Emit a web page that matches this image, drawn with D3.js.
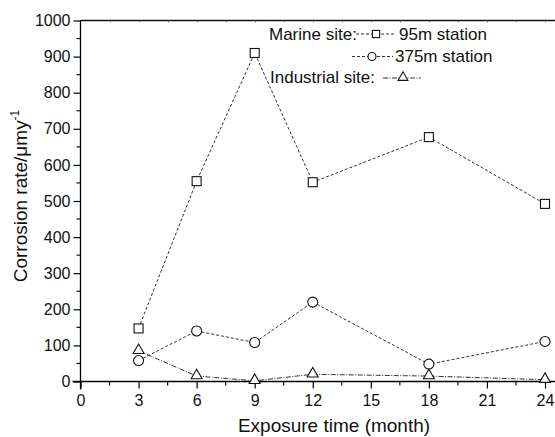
<!DOCTYPE html>
<meta charset="utf-8">
<style>
    body { margin: 0; background: #fff; }
    text { font-family: "Liberation Sans", Arial, sans-serif; fill: #111; }
</style>
<body>
<svg id="chart" width="555" height="437"></svg>
<script src="https://cdn.jsdelivr.net/npm/d3@7"></script>
<script>
    // data
    var months = [3, 6, 9, 12, 18, 24];
    var marine95 = [147, 555, 910, 552, 677, 492];
    var marine375 = [58, 140, 108, 220, 48, 111];
    var industrial = [85, 15, 2, 20, 15, 5];
    var xTicks = [0, 3, 6, 9, 12, 15, 18, 21, 24];
    var yTicks = [0, 100, 200, 300, 400, 500, 600, 700, 800, 900, 1000];

    var svg = d3.select("#chart");
    var pLeft = 80.5, pTop = 20.5, pBottom = 381.5;

    var x = d3.scaleLinear().domain([0, 24]).range([pLeft, 545]);
    var y = d3.scaleLinear().domain([0, 1000]).range([pBottom, pTop]);

    // top frame line
    svg.append("line").attr("x1", pLeft).attr("x2", 560).attr("y1", pTop).attr("y2", pTop)
        .attr("stroke", "#111").attr("stroke-width", 1.3);

    // top minor ticks (tiny)
    svg.selectAll(".tt").data(d3.range(1.5, 25, 1.5)).enter().append("line")
        .attr("x1", function (d) { return Math.round(x(d)) + 0.5; })
        .attr("x2", function (d) { return Math.round(x(d)) + 0.5; })
        .attr("y1", pTop).attr("y2", pTop + 2).attr("stroke", "#666").attr("stroke-width", 0.8);

    var xAxis = d3.axisBottom(x).tickValues(xTicks).tickSize(7).tickPadding(6);
    var gx = svg.append("g").attr("transform", "translate(0," + pBottom + ")").call(xAxis);
    gx.select(".domain").attr("d", "M" + (pLeft - 8) + ",0H560").attr("stroke-width", 1.3);
    gx.selectAll(".tick line").attr("stroke-width", 1.2);
    gx.selectAll("text").style("font-size", "16px");
    gx.selectAll(".minor").data(d3.range(1.5, 25, 3)).enter().append("line")
        .attr("x1", function (d) { return x(d); }).attr("x2", function (d) { return x(d); })
        .attr("y1", 0).attr("y2", 4).attr("stroke", "#111").attr("stroke-width", 1.2);

    var yAxis = d3.axisLeft(y).tickValues(yTicks).tickSize(7).tickPadding(3).tickFormat(d3.format("d"));
    var gy = svg.append("g").attr("transform", "translate(" + pLeft + ",0)").call(yAxis);
    gy.select(".domain").attr("d", "M0," + pTop + "V" + (pBottom + 8)).attr("stroke-width", 1.3);
    gy.selectAll(".tick line").attr("stroke-width", 1.2);
    gy.selectAll("text").style("font-size", "16px");
    gy.selectAll(".minor").data(d3.range(50, 1000, 100)).enter().append("line")
        .attr("y1", function (d) { return y(d); }).attr("y2", function (d) { return y(d); })
        .attr("x1", 0).attr("x2", -4).attr("stroke", "#111").attr("stroke-width", 1.2);

    // axis titles
    svg.append("text").attr("x", 334).attr("y", 432).attr("text-anchor", "middle")
        .style("font-size", "19px").text("Exposure time (month)");
    var yt = svg.append("text").attr("transform", "translate(27,196) rotate(-90)")
        .attr("text-anchor", "middle").style("font-size", "19px");
    yt.append("tspan").text("Corrosion rate/\u03bcmy");
    yt.append("tspan").attr("dy", -8).style("font-size", "12px").text("-1");

    var series = [
        { values: marine95, marker: "square", dash: "3,2" },
        { values: marine375, marker: "circle", dash: "3,2" },
        { values: industrial, marker: "triangle", dash: "5,1.5,1,1.5" }
    ];

    var line = d3.line()
        .x(function (d) { return x(d[0]); })
        .y(function (d) { return y(d[1]); });

    function drawMarker(g, type, cx, cy, k) {
        k = k || 1;
        if (type === "square") {
            g.append("rect").attr("x", cx - 4.5 * k).attr("y", cy - 4.5 * k)
                .attr("width", 9 * k).attr("height", 9 * k)
                .attr("fill", "#fff").attr("stroke", "#111").attr("stroke-width", 1.1);
        } else if (type === "circle") {
            g.append("circle").attr("cx", cx).attr("cy", cy).attr("r", 5 * k)
                .attr("fill", "#fff").attr("stroke", "#111").attr("stroke-width", 1.1);
        } else {
            var sym = d3.symbol().type(d3.symbolTriangle).size(52 * k * k);
            g.append("path").attr("d", sym).attr("transform", "translate(" + cx + "," + (cy - 0.5) + ")")
                .attr("fill", "#fff").attr("stroke", "#111").attr("stroke-width", 1.1);
        }
    }

    series.forEach(function (s) {
        var pts = months.map(function (m, i) { return [m, s.values[i]]; });
        svg.append("path").datum(pts).attr("d", line).attr("fill", "none")
            .attr("stroke", "#333").attr("stroke-width", 1).attr("stroke-dasharray", s.dash);
        var g = svg.append("g");
        pts.forEach(function (p) { drawMarker(g, s.marker, x(p[0]), y(p[1])); });
    });

    // legend
    var lg = svg.append("g").style("font-size", "17px");
    lg.append("text").attr("x", 269).attr("y", 40).text("Marine site:");
    lg.append("line").attr("x1", 356).attr("x2", 396).attr("y1", 34).attr("y2", 34)
        .attr("stroke", "#333").attr("stroke-dasharray", "3,2");
    drawMarker(lg, "square", 376, 34, 0.8);
    lg.append("text").attr("x", 399).attr("y", 40).text("95m station");

    lg.append("line").attr("x1", 352).attr("x2", 393).attr("y1", 56.5).attr("y2", 56.5)
        .attr("stroke", "#333").attr("stroke-dasharray", "3,2");
    drawMarker(lg, "circle", 372, 56.5, 0.8);
    lg.append("text").attr("x", 395).attr("y", 62).text("375m station");

    lg.append("text").attr("x", 270).attr("y", 83).text("Industrial site:");
    lg.append("line").attr("x1", 383).attr("x2", 421).attr("y1", 78).attr("y2", 78)
        .attr("stroke", "#333").attr("stroke-dasharray", "5,1.5,1,1.5");
    drawMarker(lg, "triangle", 403, 78, 0.9);
</script>
</body>
